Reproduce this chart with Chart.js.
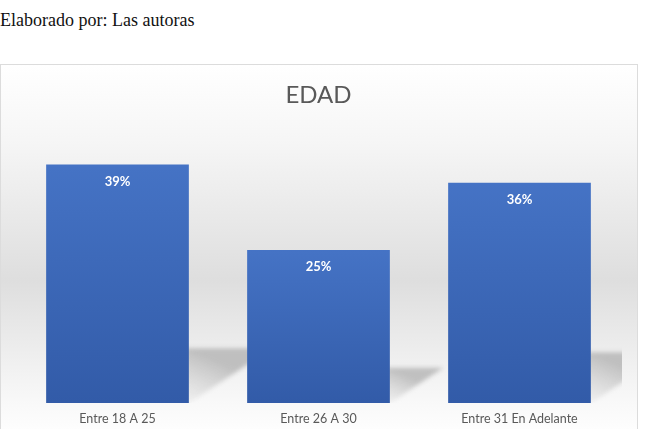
<!DOCTYPE html>
<html>
<head>
<meta charset="utf-8">
<script src="https://cdn.jsdelivr.net/npm/chart.js@4/dist/chart.umd.min.js"></script>
<style>
  body { margin: 0; width: 646px; height: 429px; overflow: hidden; background: #fff; position: relative; }
  #nota { position: absolute; left: 0; top: 10px; font-family: "Liberation Serif", "Times New Roman", serif; font-size: 18px; color: #111; white-space: nowrap; }
  #caja { position: absolute; left: 0; top: 64px; width: 636px; height: 372px; border: 1px solid #dcdcdc; border-bottom: none; }
</style>
</head>
<body>
<div id="nota">Elaborado por: Las autoras</div>
<div id="caja"><canvas id="grafico" width="636" height="372"></canvas></div>
<script>
// Datos del gráfico
const categorias = ['Entre 18 A 25', 'Entre 26 A 30', 'Entre 31 En Adelante'];
const porcentajes = [39, 25, 36];
const etiquetas = ['39%', '25%', '36%'];
const titulo = 'EDAD';

// Fondo degradado gris claro
const fondo = {
  id: 'fondo',
  beforeDraw(chart) {
    const { ctx, width, height } = chart;
    const g = ctx.createLinearGradient(0, 0, 0, height);
    g.addColorStop(0, '#ffffff');
    g.addColorStop(0.2, '#f6f6f6');
    g.addColorStop(0.58, '#dedede');
    g.addColorStop(0.9, '#f8f8f8');
    g.addColorStop(1, '#ffffff');
    ctx.save();
    ctx.fillStyle = g;
    ctx.fillRect(0, 0, width, height);
    ctx.restore();
  }
};

// Sombras de perspectiva detrás de cada barra
const sombras = {
  id: 'sombras',
  beforeDatasetsDraw(chart) {
    const { ctx, chartArea } = chart;
    const meta = chart.getDatasetMeta(0);
    ctx.save();
    ctx.beginPath();
    ctx.rect(chartArea.left, chartArea.top, chartArea.right - chartArea.left + 2, chartArea.bottom - chartArea.top);
    ctx.clip();
    ctx.filter = 'blur(2px)';
    meta.data.forEach(bar => {
      const h = bar.base - bar.y;
      const dy = h * 0.23;
      const dx = h * 0.35;
      const right = bar.x + bar.width / 2;
      const left = bar.x - bar.width / 2;
      const g = ctx.createLinearGradient(right, bar.base - dy, right - dx * 0.3, bar.base);
      g.addColorStop(0, 'rgba(175,175,175,0.75)');
      g.addColorStop(1, 'rgba(205,205,205,0.05)');
      ctx.fillStyle = g;
      ctx.beginPath();
      ctx.moveTo(left, bar.base);
      ctx.lineTo(right, bar.base);
      ctx.lineTo(right + dx, bar.base - dy);
      ctx.lineTo(left + dx, bar.base - dy);
      ctx.closePath();
      ctx.fill();
    });
    ctx.restore();
  }
};

// Etiquetas de porcentaje dentro de las barras
const valores = {
  id: 'valores',
  afterDatasetsDraw(chart) {
    const { ctx } = chart;
    const meta = chart.getDatasetMeta(0);
    ctx.save();
    ctx.fillStyle = '#ffffff';
    ctx.font = 'bold 13px Lato, "Open Sans", sans-serif';
    ctx.textAlign = 'center';
    ctx.textBaseline = 'middle';
    meta.data.forEach((bar, i) => {
      ctx.fillText(etiquetas[i], bar.x, bar.y + 17);
    });
    ctx.restore();
  }
};

function degradadoBarra(context) {
  const chart = context.chart;
  if (!chart.chartArea) return '#4170c0';
  const y = chart.scales.y;
  const top = y.getPixelForValue(context.raw);
  const bottom = y.getPixelForValue(0);
  const g = chart.ctx.createLinearGradient(0, top, 0, bottom);
  g.addColorStop(0, '#4573c5');
  g.addColorStop(1, '#325ba8');
  return g;
}

new Chart(document.getElementById('grafico'), {
  type: 'bar',
  data: {
    labels: categorias,
    datasets: [{
      data: porcentajes,
      backgroundColor: degradadoBarra,
      borderWidth: 0,
      categoryPercentage: 1,
      barPercentage: 0.71
    }]
  },
  options: {
    responsive: false,
    animation: false,
    layout: { padding: { left: 16, right: 17, top: 0, bottom: 11 } },
    scales: {
      x: {
        grid: { display: false },
        border: { display: false },
        ticks: { color: '#595959', font: { family: 'Lato, "Open Sans", sans-serif', size: 12.5 }, padding: 0 }
      },
      y: { display: false, min: 0, max: 45 }
    },
    plugins: {
      legend: { display: false },
      tooltip: { enabled: false },
      title: {
        display: true,
        text: titulo,
        color: '#595959',
        font: { family: 'Lato, "Open Sans", sans-serif', size: 24, weight: 'normal' },
        padding: { top: 16, bottom: 18 }
      }
    }
  },
  plugins: [fondo, sombras, valores]
});
</script>
</body>
</html>
